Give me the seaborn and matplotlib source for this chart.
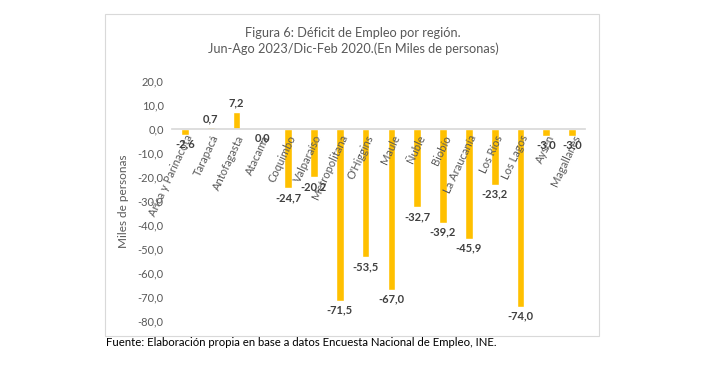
import numpy as np
import pandas as pd
import matplotlib
matplotlib.use("Agg")
import matplotlib.pyplot as plt
import seaborn as sns
from matplotlib.patches import Rectangle

# data
regiones = ["Arica y Parinacota", "Tarapacá", "Antofagasta", "Atacama", "Coquimbo",
            "Valparaíso", "Metropolitana", "O'Higgins", "Maule", "Ñuble", "Biobío",
            "La Araucanía", "Los Ríos", "Los Lagos", "Aysén", "Magallanes"]
deficit = [-2.6, 0.7, 7.2, 0.0, -24.7, -20.2, -71.5, -53.5, -67.0, -32.7, -39.2,
           -45.9, -23.2, -74.0, -3.0, -3.0]
y_ticks = [20, 10, 0, -10, -20, -30, -40, -50, -60, -70, -80]

titulo = "Figura 6: Déficit de Empleo por región.\nJun-Ago 2023/Dic-Feb 2020.(En Miles de personas)"
fuente = "Fuente: Elaboración propia en base a datos Encuesta Nacional de Empleo, INE."

def coma(v):
    return f"{v:.1f}".replace(".", ",")

sns.set_theme(style="white")
plt.rcParams["font.family"] = ["Lato", "DejaVu Sans"]

W, H = 712, 365
fig = plt.figure(figsize=(W / 100, H / 100), dpi=100)
ax = fig.add_axes([172 / W, 1 - 321 / H, 413 / W, 240 / H])

df = pd.DataFrame({"region": regiones, "deficit": deficit})
sns.barplot(data=df, x="region", y="deficit", color="#FFC000", width=0.3,
            saturation=1, ax=ax)
# labels sit on top of the bars, as in the source
ax.set_axisbelow(False)

ax.set_ylim(-80, 20)
ax.set_xlim(-0.5, len(regiones) - 0.5)
ax.set_yticks(y_ticks)
ax.set_yticklabels([coma(t) for t in y_ticks], color="#595959", fontsize=8)
ax.set_ylabel("Miles de personas", color="#595959", fontsize=8.5, labelpad=6)
ax.set_xlabel("")

# category axis crosses at zero
for s in ["top", "right", "left"]:
    ax.spines[s].set_visible(False)
ax.spines["bottom"].set_position(("data", 0))
ax.spines["bottom"].set_color("#D9D9D9")
ax.tick_params(axis="both", length=0)
ax.tick_params(axis="y", pad=6)
ax.set_xticks(range(len(regiones)))
ax.set_xticklabels(regiones, rotation=65, ha="right", rotation_mode="anchor",
                   color="#595959", fontsize=8)
ax.tick_params(axis="x", pad=3)

# data labels
for i, v in enumerate(deficit):
    if v > 0:
        ax.text(i, v + 1.2, coma(v), ha="center", va="bottom", fontsize=8,
                fontweight="bold", color="#404040", zorder=4)
    else:
        ax.text(i, v - 1.5, coma(v), ha="center", va="top", fontsize=8,
                fontweight="bold", color="#404040", zorder=4)

fig.text(353 / W, 1 - 41 / H, titulo, ha="center", va="center", fontsize=9.2,
         color="#595959", linespacing=1.4)

fig.patches.append(Rectangle((105 / W, 1 - 336 / H), 494 / W, 322 / H,
                             transform=fig.transFigure, fill=False,
                             edgecolor="#D9D9D9", linewidth=0.8))

fig.text(106 / W, 1 - 343 / H, fuente, ha="left", va="center", fontsize=8.2,
         color="black")

fig.savefig("out.png", dpi=100, facecolor="white")
